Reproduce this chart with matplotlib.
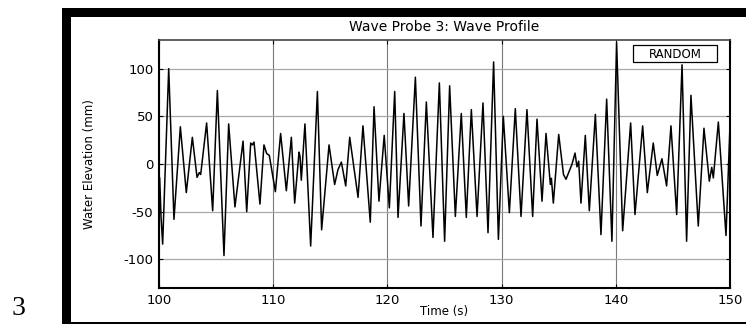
import numpy as np
import matplotlib
matplotlib.use("Agg")
import matplotlib.pyplot as plt
from matplotlib.patches import Rectangle

plt.rcParams["axes.unicode_minus"] = False

# ===== wave probe 3 trace, crests / troughs =====
time_s = [100.0, 100.06, 100.18, 100.32, 100.85, 101.31, 101.87, 102.39, 102.92,
          103.33, 103.53, 103.65, 104.17, 104.7, 105.11, 105.69, 106.1, 106.65,
          107.36, 107.68, 108.03, 108.17, 108.32, 108.84, 109.19, 109.43, 109.66,
          110.19, 110.65, 111.15, 111.59, 111.88, 112.26, 112.35, 112.46, 112.78,
          113.28, 113.87, 114.24, 114.89, 115.38, 115.67, 115.97, 116.35, 116.7,
          117.43, 117.86, 118.5, 118.83, 119.26, 119.72, 120.17, 120.64, 120.93,
          121.45, 121.86, 122.45, 122.94, 123.41, 123.99, 124.55, 125.01, 125.45,
          125.95, 126.47, 126.91, 127.35, 127.85, 128.37, 128.81, 129.3, 129.72,
          130.15, 130.68, 131.2, 131.7, 132.22, 132.72, 133.1, 133.54, 133.89,
          134.27, 134.36, 134.53, 135.0, 135.42, 135.64, 136.17, 136.43, 136.6,
          136.75, 136.95, 137.33, 137.68, 138.21, 138.7, 139.2, 139.66, 140.07,
          140.6, 141.3, 141.68, 142.35, 142.76, 143.28, 143.63, 144.04, 144.45,
          144.83, 145.33, 145.8, 146.2, 146.58, 147.22, 147.72, 148.19, 148.4,
          148.54, 148.98, 149.65, 150.0]
elev_mm = [-12, -15, -56, -84, 100, -58, 39, -30, 28,
           -14, -9, -11, 43, -49, 77, -96, 42, -45,
           24, -50, 22, 20, 23, -42, 20, 11, 9,
           -29, 32, -28, 28, -41, 12.5, 8, -17, 42,
           -86, 76, -69, 20, -21.5, -6, 2, -23, 28,
           -35, 40, -61, 60, -39, 30, -46, 76, -56,
           53, -44, 91, -65, 65, -77, 85, -81, 82,
           -55, 53, -56, 57, -55, 64, -72, 107, -79,
           50, -51, 58, -55, 57, -55, 47, -39, 32,
           -21.5, -15, -41, 31, -11, -16, 0, 11.5, -3,
           3, -41, 30, -49, 52, -74, 68, -81, 127,
           -70, 43, -53, 40, -30, 22, -12, 5.5, -23,
           40, -53, 104, -81, 72, -65, 37.5, -18, -3.5,
           -14.6, 44, -75, 41]

xticks = [100, 110, 120, 130, 140, 150]
yticks = [-100, -50, 0, 50, 100]

W, H = 746, 324


def fx(x):
    return x / W


def fy(y):
    return 1 - y / H


fig = plt.figure(figsize=(W / 100, H / 100), dpi=100)
fig.patch.set_facecolor("white")

# page frame the figure was pasted in
fig.add_artist(Rectangle((fx(62), fy(324)), fx(71) - fx(62), fy(8) - fy(324),
                         transform=fig.transFigure, color="black", lw=0))
fig.add_artist(Rectangle((fx(62), fy(16.5)), fx(746) - fx(62), fy(8) - fy(16.5),
                         transform=fig.transFigure, color="black", lw=0))
fig.add_artist(Rectangle((fx(62), fy(324)), fx(746) - fx(62), fy(321.5) - fy(324),
                         transform=fig.transFigure, color="black", lw=0))
fig.text(fx(12), fy(315), "3", family="Liberation Serif", fontsize=20,
         ha="left", va="baseline")

ax = fig.add_axes([fx(159), fy(288), fx(730) - fx(159), fy(40) - fy(288)])
ax.plot(time_s, elev_mm, color="black", lw=1.1)

ax.set_xlim(100, 150)
ax.set_ylim(-130, 130)
ax.set_xticks(xticks)
ax.set_yticks(yticks)
ax.tick_params(direction="in", top=True, right=True, length=3, width=0.8,
               labelsize=9.5, pad=4)
for lab in ax.get_xticklabels() + ax.get_yticklabels():
    lab.set_family("DejaVu Sans")

ax.xaxis.grid(True, color="#7a7a7a", lw=0.8)
ax.yaxis.grid(True, color="#a8a8a8", lw=0.9)
ax.set_axisbelow(True)
for side in ["left", "bottom", "right"]:
    ax.spines[side].set_linewidth(1.5)
ax.spines["top"].set_linewidth(1.2)
ax.spines["top"].set_color("#444444")

ax.text(0.5, 1.052, "Wave Probe 3: Wave Profile", transform=ax.transAxes,
        ha="center", va="center", fontsize=10, family="DejaVu Sans")
ax.set_xlabel("Time (s)", fontsize=8.5, family="DejaVu Sans")
ax.xaxis.set_label_coords(0.5, -0.068)
ax.set_ylabel("Water Elevation (mm)", fontsize=8.5, family="Liberation Sans Narrow")
ax.yaxis.set_label_coords(-0.110, 0.5)

# legend box
fig.add_artist(Rectangle((fx(633), fy(61.5)), fx(717) - fx(633), fy(44.5) - fy(61.5),
                         transform=fig.transFigure, facecolor="white",
                         edgecolor="black", lw=0.9))
fig.text(fx(675), fy(53), "RANDOM", fontsize=8.5, family="DejaVu Sans",
         ha="center", va="center_baseline")

fig.savefig("out.png", dpi=100)
